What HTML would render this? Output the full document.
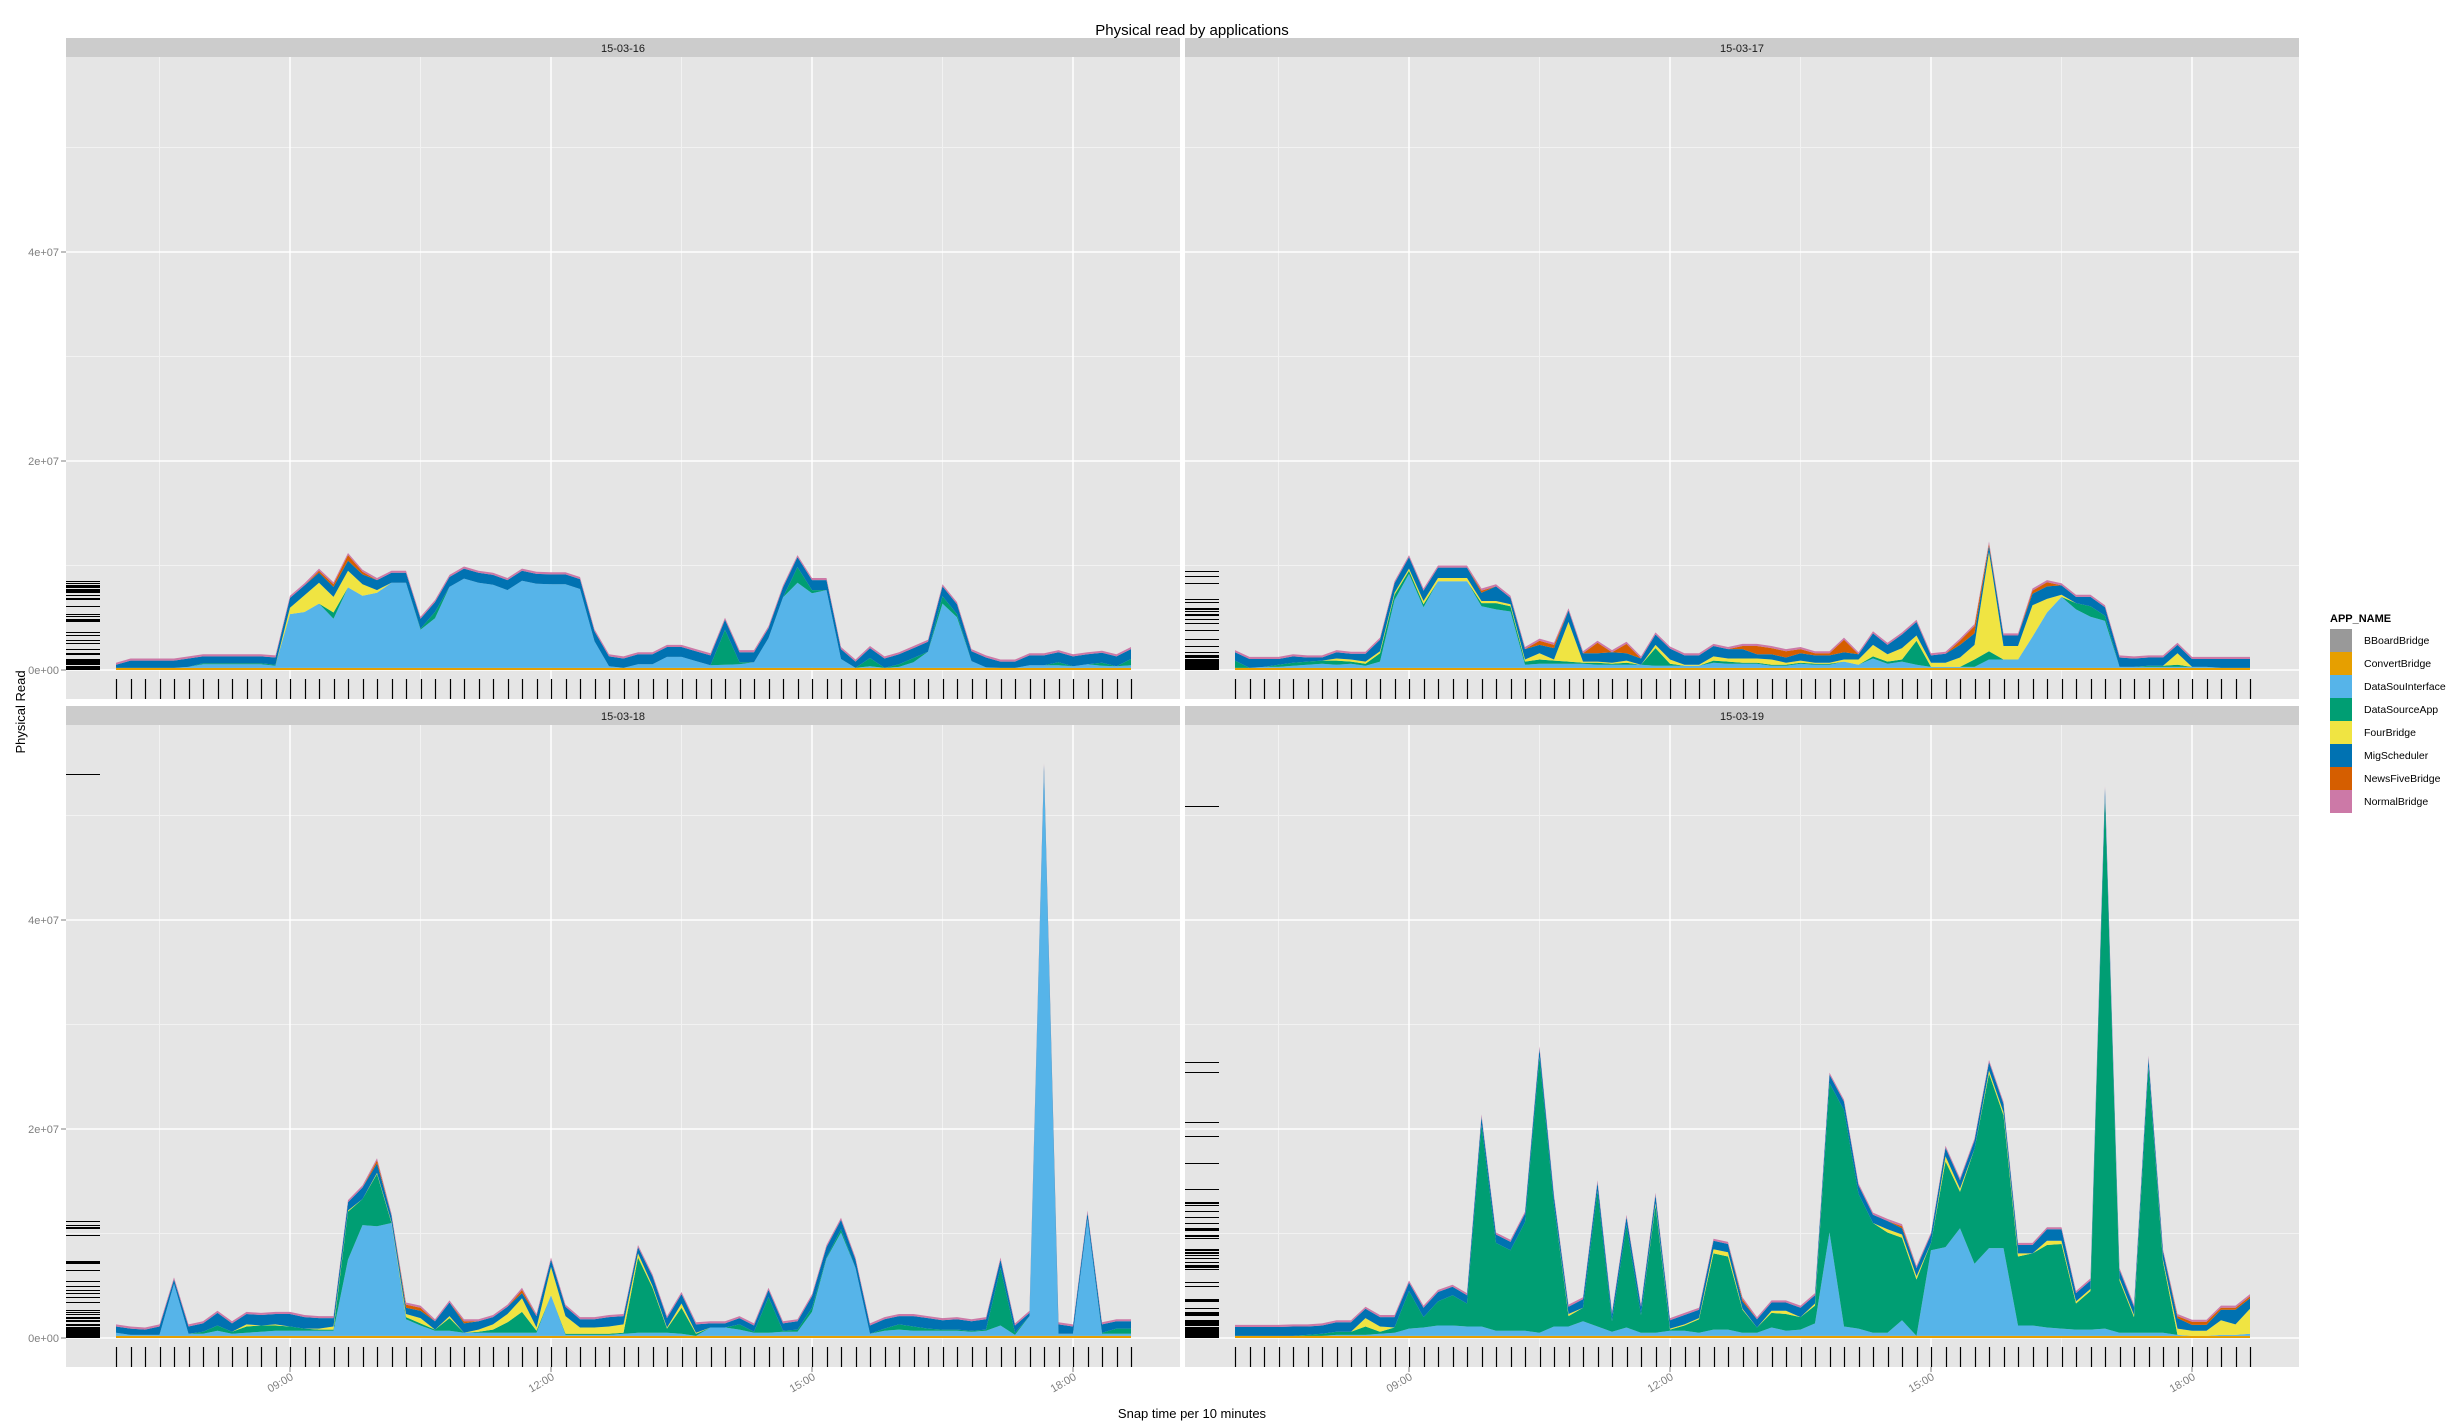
<!DOCTYPE html>
<html><head><meta charset="utf-8"><style>
html,body{margin:0;padding:0;background:#fff}
svg{display:block;font-family:"Liberation Sans",sans-serif}
</style></head><body>
<svg id="chart" width="2460" height="1424" viewBox="0 0 2460 1424" xmlns="http://www.w3.org/2000/svg">
<text x="1192" y="35" font-size="15" text-anchor="middle" fill="#000">Physical read by applications</text>
<text transform="translate(25,712) rotate(-90)" font-size="13" text-anchor="middle" fill="#000">Physical Read</text>
<text x="1192" y="1418" font-size="13" text-anchor="middle" fill="#000">Snap time per 10 minutes</text>
<g id="panels"></g>
<g id="legend"></g>
</svg>
<script>
const panelLabels = ['15-03-16','15-03-17','15-03-18','15-03-19'];
const timeTickLabels = ['09:00','12:00','15:00','18:00'];
const timeTickIndex = [12,30,48,66];
const yTickLabels = ['0e+00','2e+07','4e+07'];
const yTickValues = [0,20,40];
const appNames = ['BBoardBridge','ConvertBridge','DataSouInterface','DataSourceApp','FourBridge','MigScheduler','NewsFiveBridge','NormalBridge'];
const appColors = ['#999999','#E69F00','#56B4E9','#009E73','#F0E442','#0072B2','#D55E00','#CC79A7'];

const convertVals = [0.2,0.2,0.2,0.2,0.2,0.2,0.2,0.2,0.2,0.2,0.2,0.2,0.2,0.2,0.2,0.2,0.2,0.2,0.2,0.2,0.2,0.2,0.2,0.2,0.2,0.2,0.2,0.2,0.2,0.2,0.2,0.2,0.2,0.2,0.2,0.2,0.2,0.2,0.2,0.2,0.2,0.2,0.2,0.2,0.2,0.2,0.2,0.2,0.2,0.2,0.2,0.2,0.2,0.2,0.2,0.2,0.2,0.2,0.2,0.2,0.2,0.2,0.2,0.2,0.2,0.2,0.2,0.2,0.2,0.2,0.2];
const normalVals = [0.2,0.2,0.2,0.2,0.2,0.2,0.2,0.2,0.2,0.2,0.2,0.2,0.2,0.2,0.2,0.2,0.2,0.2,0.2,0.2,0.2,0.2,0.2,0.2,0.2,0.2,0.2,0.2,0.2,0.2,0.2,0.2,0.2,0.2,0.2,0.2,0.2,0.2,0.2,0.2,0.2,0.2,0.2,0.2,0.2,0.2,0.2,0.2,0.2,0.2,0.2,0.2,0.2,0.2,0.2,0.2,0.2,0.2,0.2,0.2,0.2,0.2,0.2,0.2,0.2,0.2,0.2,0.2,0.2,0.2,0.2];

// values in millions; MigScheduler = total minus the other series
const p1Total = [0.7,1.1,1.1,1.1,1.1,1.3,1.5,1.5,1.5,1.5, 1.5,1.4,7.1,8.3,9.7,8.4,11.2,9.6,8.8,9.5, 9.5,5.1,6.7,9.1,9.9,9.5,9.3,8.8,9.7,9.4, 9.35,9.35,8.9,3.9,1.5,1.3,1.7,1.7,2.4,2.4, 2.0,1.6,5.0,1.9,1.9,4.2,8.1,11.0,8.8,8.8, 2.2,1.0,2.3,1.3,1.7,2.3,2.9,8.2,6.5,2.0, 1.4,1.0,1.0,1.6,1.6,1.9,1.5,1.7,1.85,1.5,2.2];
const p1Light = [0,0,0,0,0,0.1,0.35,0.35,0.35,0.35, 0.35,0.2,5.15,5.35,6.15,4.7,7.7,6.9,7.2,8.15, 8.15,3.65,4.75,7.75,8.55,8.15,7.95,7.45,8.35,8.05, 8.0,8.0,7.55,2.55,0.15,0,0.35,0.35,1.05,1.05, 0.65,0.25,0.3,0.35,0.55,2.85,6.75,8.15,7.15,7.45, 0.85,0,0.15,0,0.1,0.55,1.55,6.15,4.85,0.65, 0.05,0,0,0.25,0.25,0.25,0.15,0.35,0.2,0.15,0.25];
const p1Green = [0,0,0,0,0,0,0.1,0.1,0.1,0.1, 0.1,0.1,0,0,0,0.6,0,0,0,0, 0,0.1,0.6,0,0,0,0,0,0,0, 0,0,0,0,0,0,0,0,0,0, 0,0,3.35,0.2,0,0,0,1.5,0.3,0, 0,0,0.8,0,0.25,0.4,0,0.7,0.3,0, 0,0,0,0,0,0.3,0,0,0.3,0,0.6];
const p1Yellow = [0,0,0,0,0,0,0,0,0,0, 0,0,0.6,1.6,2.0,1.5,1.6,1.1,0.25,0, 0,0,0,0,0,0,0,0,0,0, 0,0,0,0,0,0,0,0,0,0, 0,0,0,0,0,0,0,0,0,0, 0,0,0,0,0,0,0,0,0,0, 0,0,0,0,0,0,0,0,0,0,0];
const p1Orange = [0,0,0,0,0,0,0,0,0,0, 0,0,0,0,0.2,0.25,0.55,0.25,0,0, 0,0,0,0,0,0,0,0,0,0, 0,0,0,0,0,0,0,0,0,0, 0,0,0,0,0,0,0,0,0,0, 0,0,0,0,0,0,0,0,0,0, 0,0,0,0,0,0,0,0,0,0,0];

const p2Total = [1.9,1.25,1.25,1.25,1.5,1.4,1.4,1.9,1.75,1.75, 3.1,8.5,11.0,7.8,10.0,10.0,10.0,7.8,8.2,7.1, 2.2,3.0,2.6,5.9,1.8,2.8,1.9,2.7,1.3,3.6, 2.25,1.6,1.6,2.5,2.2,2.5,2.5,2.3,2.0,2.2, 1.8,1.8,3.1,1.7,3.7,2.6,3.6,4.8,1.6,1.75, 3.0,4.4,12.3,3.5,3.5,7.8,8.6,8.3,7.2,7.2, 6.2,1.4,1.3,1.4,1.4,2.6,1.25,1.25,1.25,1.25,1.25];
const p2Light = [0,0,0.1,0.1,0.2,0.3,0.4,0.3,0.4,0.2, 0.6,6.5,9.0,5.8,8.3,8.3,8.3,5.9,5.6,5.4, 0.3,0.4,0.4,0.4,0.4,0.3,0.3,0.3,0.3,0.2, 0.2,0.2,0.2,0.5,0.4,0.4,0.4,0.2,0.2,0.4, 0.3,0.3,0.6,0.3,0.9,0.4,0.6,0.3,0.1,0.1, 0.1,0.1,0.8,0.8,0.8,3.0,5.3,6.8,5.6,4.9, 4.5,0.1,0.1,0.1,0.1,0.1,0.1,0.1,0,0,0];
const p2Green = [0.7,0,0,0.2,0.3,0.3,0.3,0.4,0.2,0.2, 0.8,0.5,0.3,0.3,0,0,0,0.3,0.6,0.5, 0.3,0.4,0.3,0.2,0.1,0.2,0.1,0.2,0,1.7, 0.2,0,0,0.2,0.2,0.1,0.1,0.1,0.1,0.1, 0.1,0.1,0,0,0.2,0.2,0.2,2.3,0,0, 0,0.7,0.8,0,0,0,0,0,0.6,1.0, 0.5,0,0,0.1,0.1,0.2,0,0,0,0,0];
const p2Yellow = [0,0,0,0,0,0,0,0.2,0.2,0.2, 0.2,0.2,0.2,0.3,0.3,0.3,0.3,0.2,0.2,0.2, 0.2,0.6,0.1,3.8,0.1,0.1,0.1,0.2,0,0.3, 0.4,0.1,0.1,0.4,0.3,0.4,0.4,0.5,0.2,0.2, 0.1,0.1,0.2,0.5,1.1,0.7,1.1,0.5,0.4,0.4, 0.9,1.4,9.5,1.3,1.3,3.0,1.3,0.2,0,0, 0,0,0,0,0,1.1,0,0,0,0,0];
const p2Orange = [0,0,0,0,0,0,0,0,0,0, 0,0,0,0,0,0,0,0.2,0,0, 0,0.4,0.3,0,0,1.0,0,0.9,0,0, 0,0,0,0,0,0.3,0.8,0.6,0.6,0.4, 0.2,0.2,1.2,0,0,0,0,0,0,0, 0.4,0.7,0.2,0,0,0.3,0.4,0,0,0, 0,0,0,0,0,0,0,0,0,0,0];

const p3Total = [1.3,1.1,1.0,1.3,5.8,1.3,1.6,2.6,1.6,2.5, 2.4,2.5,2.5,2.2,2.1,2.1,13.2,14.6,17.2,11.9, 3.4,3.1,1.8,3.6,1.8,1.8,2.2,3.2,4.8,2.3, 7.7,3.2,2.0,2.0,2.2,2.3,8.9,6.1,2.1,4.4, 1.5,1.6,1.6,2.1,1.4,4.8,1.6,1.8,4.2,8.9, 11.5,7.7,1.4,2.0,2.3,2.3,2.1,1.9,2.0,1.8, 2.0,7.7,1.4,2.6,55,1.5,1.3,12.2,1.5,1.8,1.8];
const p3Light = [0.3,0.1,0.1,0.1,5.0,0.2,0.2,0.5,0.2,0.3, 0.4,0.5,0.5,0.5,0.5,0.5,7.3,10.6,10.5,10.8, 1.6,1.0,0.5,0.5,0.3,0.3,0.3,0.3,0.3,0.3, 3.9,0.1,0.1,0.1,0.1,0.2,0.3,0.3,0.3,0.2, 0,0.8,0.8,0.6,0.3,0.3,0.4,0.4,2.3,7.4, 9.9,6.5,0.2,0.5,0.6,0.5,0.5,0.5,0.5,0.4, 0.5,1.0,0.1,1.9,54,0.2,0.2,11.2,0.2,0.2,0.2];
const p3Green = [0,0,0,0,0,0,0.2,0.5,0.2,0.6, 0.6,0.5,0.4,0.2,0.1,0.1,4.6,2.5,5.0,0, 0.2,0.2,0.1,1.2,0,0.1,0.3,1.0,2.0,0.2, 0,0.1,0.1,0.1,0.1,0.1,7.2,4.3,0.4,2.5, 0.2,0,0,0.5,0.1,3.4,0.1,0.2,0.4,0.1, 0.3,0,0,0.2,0.5,0.4,0.2,0.1,0.1,0.1, 0.1,5.5,0.2,0,0,0,0,0,0.1,0.5,0.5];
const p3Yellow = [0,0,0,0,0,0,0,0,0,0.2, 0,0.1,0,0,0.1,0.3,0.1,0,0.1,0.1, 0.3,0.5,0,0.2,0,0.2,0.5,0.8,1.3,0.3, 2.7,1.7,0.6,0.6,0.7,0.8,0.4,0.2,0.1,0.4, 0.1,0,0,0,0,0,0,0,0,0, 0,0,0,0,0,0,0,0,0,0, 0,0,0,0,0,0,0,0,0,0,0];
const p3Orange = [0,0,0,0,0,0,0,0,0,0, 0,0,0,0,0,0,0,0,0.3,0, 0.3,0.3,0,0,0.2,0,0,0,0.3,0, 0,0,0,0,0,0,0,0,0,0, 0,0,0,0,0,0,0,0,0,0, 0,0,0,0,0,0,0,0,0,0, 0,0,0,0,0,0,0,0,0,0,0];

const p4Total = [1.25,1.25,1.25,1.25,1.3,1.3,1.4,1.7,1.7,3.0, 2.2,2.2,5.5,3.1,4.6,5.1,4.3,21.4,10.1,9.4, 12.1,27.9,13.7,3.2,3.9,15.1,2.5,11.8,3.2,13.9, 1.9,2.4,2.9,9.5,9.2,3.9,2.0,3.6,3.6,3.1, 4.3,25.4,22.8,14.8,12.0,11.4,10.9,6.9,10.1,18.4, 15.3,19.1,26.6,22.6,9.1,9.1,10.6,10.6,4.5,5.7, 52.8,6.7,3.2,27.0,8.5,2.3,1.75,1.75,3.1,3.1,4.2];
const p4Light = [0,0,0,0,0,0,0,0.1,0.1,0.1, 0.2,0.3,0.7,0.8,1.0,1.0,0.9,0.9,0.5,0.5, 0.5,0.3,0.9,0.9,1.4,0.9,0.4,0.8,0.3,0.3, 0.5,0.5,0.3,0.6,0.6,0.3,0.3,0.8,0.5,0.6, 1.2,9.9,0.9,0.7,0.3,0.3,1.5,0,8.2,8.5, 10.3,6.9,8.4,8.4,1.0,1.0,0.8,0.7,0.6,0.6, 0.7,0.3,0.3,0.3,0.3,0.1,0,0,0.1,0.1,0.2];
const p4Green = [0,0,0,0,0,0.1,0.2,0.3,0.3,0.8, 0.2,0.5,3.6,1.0,2.3,2.9,2.2,19.3,8.4,7.7, 10.4,26.4,11.6,1.0,1.3,13.0,1.0,9.8,1.7,12.2, 0.1,0.5,1.3,7.3,7.0,2.2,0.5,1.4,1.6,1.2, 1.7,14.3,20.7,12.9,10.5,9.6,7.9,5.4,0.7,8.2, 3.5,11.0,16.7,12.7,6.6,6.9,7.9,8.1,2.5,3.7, 50.9,5.0,1.5,25.5,6.8,0,0,0,0,0,0];
const p4Yellow = [0,0,0,0,0,0,0,0,0,0.8, 0.5,0,0,0,0,0,0,0,0,0, 0,0,0,0.2,0,0,0,0,0,0.2, 0.1,0.1,0.1,0.4,0.4,0.1,0,0.2,0.3,0, 0.2,0,0,0,0,0.3,0.3,0.3,0,0.5, 0.3,0,0.3,0.3,0.3,0,0.4,0.3,0.2,0.2, 0,0.2,0.2,0,0.2,0.6,0.5,0.5,1.4,1.0,2.4];
const p4Orange = [0,0,0,0,0,0,0,0,0,0, 0,0,0,0,0,0,0,0,0,0, 0,0,0,0,0,0,0,0,0,0, 0,0,0,0,0,0.2,0,0,0,0, 0,0,0,0,0,0,0.2,0,0,0, 0,0,0,0,0,0,0,0,0,0, 0,0,0,0,0,0.2,0.3,0.3,0.2,0.2,0.2];

const panelData = [
  {t:p1Total,l:p1Light,g:p1Green,y:p1Yellow,o:p1Orange},
  {t:p2Total,l:p2Light,g:p2Green,y:p2Yellow,o:p2Orange},
  {t:p3Total,l:p3Light,g:p3Green,y:p3Yellow,o:p3Orange},
  {t:p4Total,l:p4Light,g:p4Green,y:p4Yellow,o:p4Orange}
];
const layout = [
  {x:66,top:57,bottom:699,zero:670,strip:38,left:true,bottomRow:false},
  {x:1185,top:57,bottom:699,zero:670,strip:38,left:false,bottomRow:false},
  {x:66,top:725,bottom:1367,zero:1338,strip:706,left:true,bottomRow:true},
  {x:1185,top:725,bottom:1367,zero:1338,strip:706,left:false,bottomRow:true}
];
const PW = 1114, PXU = 10.45, STEP = 14.5;
const NS = 'http://www.w3.org/2000/svg';
function mk(tag, attrs, parent){const e=document.createElementNS(NS,tag);for(const k in attrs)e.setAttribute(k,attrs[k]);parent.appendChild(e);return e;}
const root = document.getElementById('panels');

layout.forEach((L,pi)=>{
  const D = panelData[pi];
  const g = mk('g',{},root);
  
  
  const xs = i => L.x + 50 + STEP*i;
  const ys = v => L.zero - v*PXU;
  const bg = mk('rect',{x:L.x,y:L.top,width:PW,height:L.bottom-L.top,fill:'#E5E5E5'},g);
  
  
  [3,21,39,57].forEach(i=>{const l=mk('line',{x1:xs(i),x2:xs(i),y1:L.top,y2:L.bottom,stroke:'#F2F2F2','stroke-width':1},g);
    });
  [10,30,50].forEach(v=>{const l=mk('line',{x1:L.x,x2:L.x+PW,y1:ys(v),y2:ys(v),stroke:'#F2F2F2','stroke-width':1},g);
    });
  timeTickIndex.forEach(i=>{const l=mk('line',{x1:xs(i),x2:xs(i),y1:L.top,y2:L.bottom,stroke:'#FFFFFF','stroke-width':1.5},g);
    });
  yTickValues.forEach(v=>{const l=mk('line',{x1:L.x,x2:L.x+PW,y1:ys(v),y2:ys(v),stroke:'#FFFFFF','stroke-width':1.5},g);
    });
  const n = D.t.length;
  const series = [];
  const blue = [];
  for(let i=0;i<n;i++){
    const rest = convertVals[i]+normalVals[i]+D.l[i]+D.g[i]+D.y[i]+D.o[i];
    blue.push(Math.max(0.3, D.t[i]-rest));
  }
  series.push({k:1,v:convertVals},{k:2,v:D.l},{k:3,v:D.g},{k:4,v:D.y},{k:5,v:blue},{k:6,v:D.o},{k:7,v:normalVals});
  let base = new Array(n).fill(0);
  const rugVals = [];
  series.forEach(s=>{
    const top = base.map((b,i)=>b+s.v[i]);
    let d = '';
    for(let i=0;i<n;i++) d += (i?'L':'M')+xs(i).toFixed(1)+','+ys(top[i]).toFixed(1);
    for(let i=n-1;i>=0;i--) d += 'L'+xs(i).toFixed(1)+','+ys(base[i]).toFixed(1);
    const p = mk('path',{d:d+'Z',fill:appColors[s.k]},g);
    
    
    for(let i=0;i<n;i++) if(s.v[i]>0.05) rugVals.push(s.v[i]);
    base = top;
  });
  let rd='';
  rugVals.forEach(v=>{const y=Math.round(ys(v))+0.5; rd+='M'+L.x+','+y+'H'+(L.x+34);});
  const yr = mk('path',{d:rd,stroke:'#000','stroke-width':1,fill:'none'},g);
  
  
  let xd='';
  for(let i=0;i<n;i++){const x=Math.round(xs(i))+0.5; xd+='M'+x+','+(L.bottom-20)+'V'+L.bottom;}
  const xr = mk('path',{d:xd,stroke:'#000','stroke-width':1.2,fill:'none'},g);
  
  
  const st = mk('rect',{x:L.x,y:L.strip,width:PW,height:L.top-L.strip,fill:'#CCCCCC'},g);
  
  
  const stt = mk('text',{x:L.x+PW/2,y:L.strip+14,'font-size':11,'text-anchor':'middle',fill:'#1a1a1a'},g);
  stt.textContent = panelLabels[pi];
  
  
  if(L.left){
    yTickValues.forEach((v,k)=>{
      const tk = mk('line',{x1:L.x-5,x2:L.x,y1:ys(v),y2:ys(v),stroke:'#7f7f7f','stroke-width':1},g);
      
      
      const t = mk('text',{x:L.x-7,y:ys(v)+4,'font-size':11,'text-anchor':'end',fill:'#7f7f7f'},g);
      t.textContent = yTickLabels[k];
      
      
    });
  }
  if(L.bottomRow){
    timeTickIndex.forEach((i,k)=>{
      const tk = mk('line',{x1:xs(i),x2:xs(i),y1:L.bottom,y2:L.bottom+5,stroke:'#7f7f7f','stroke-width':1},g);
      
      
      const t = mk('text',{transform:'translate('+(xs(i)+4)+','+(L.bottom+12)+') rotate(-30)','font-size':11,'text-anchor':'end',fill:'#7f7f7f'},g);
      t.textContent = timeTickLabels[k];
      
      
    });
  }
});

const lg = document.getElementById('legend');
const lt = mk('text',{x:2330,y:622,'font-size':11,'font-weight':'bold',fill:'#000'},lg);
lt.textContent = 'APP_NAME';


appNames.forEach((nm,k)=>{
  const e = mk('g',{},lg);
  
  
  const y = 629 + k*23;
  const r = mk('rect',{x:2330,y:y,width:22,height:23,fill:appColors[k]},e);
  
  
  const t = mk('text',{x:2364,y:y+15,'font-size':10.5,fill:'#000'},e);
  t.textContent = nm;
  
  
});
</script>
</body></html>
